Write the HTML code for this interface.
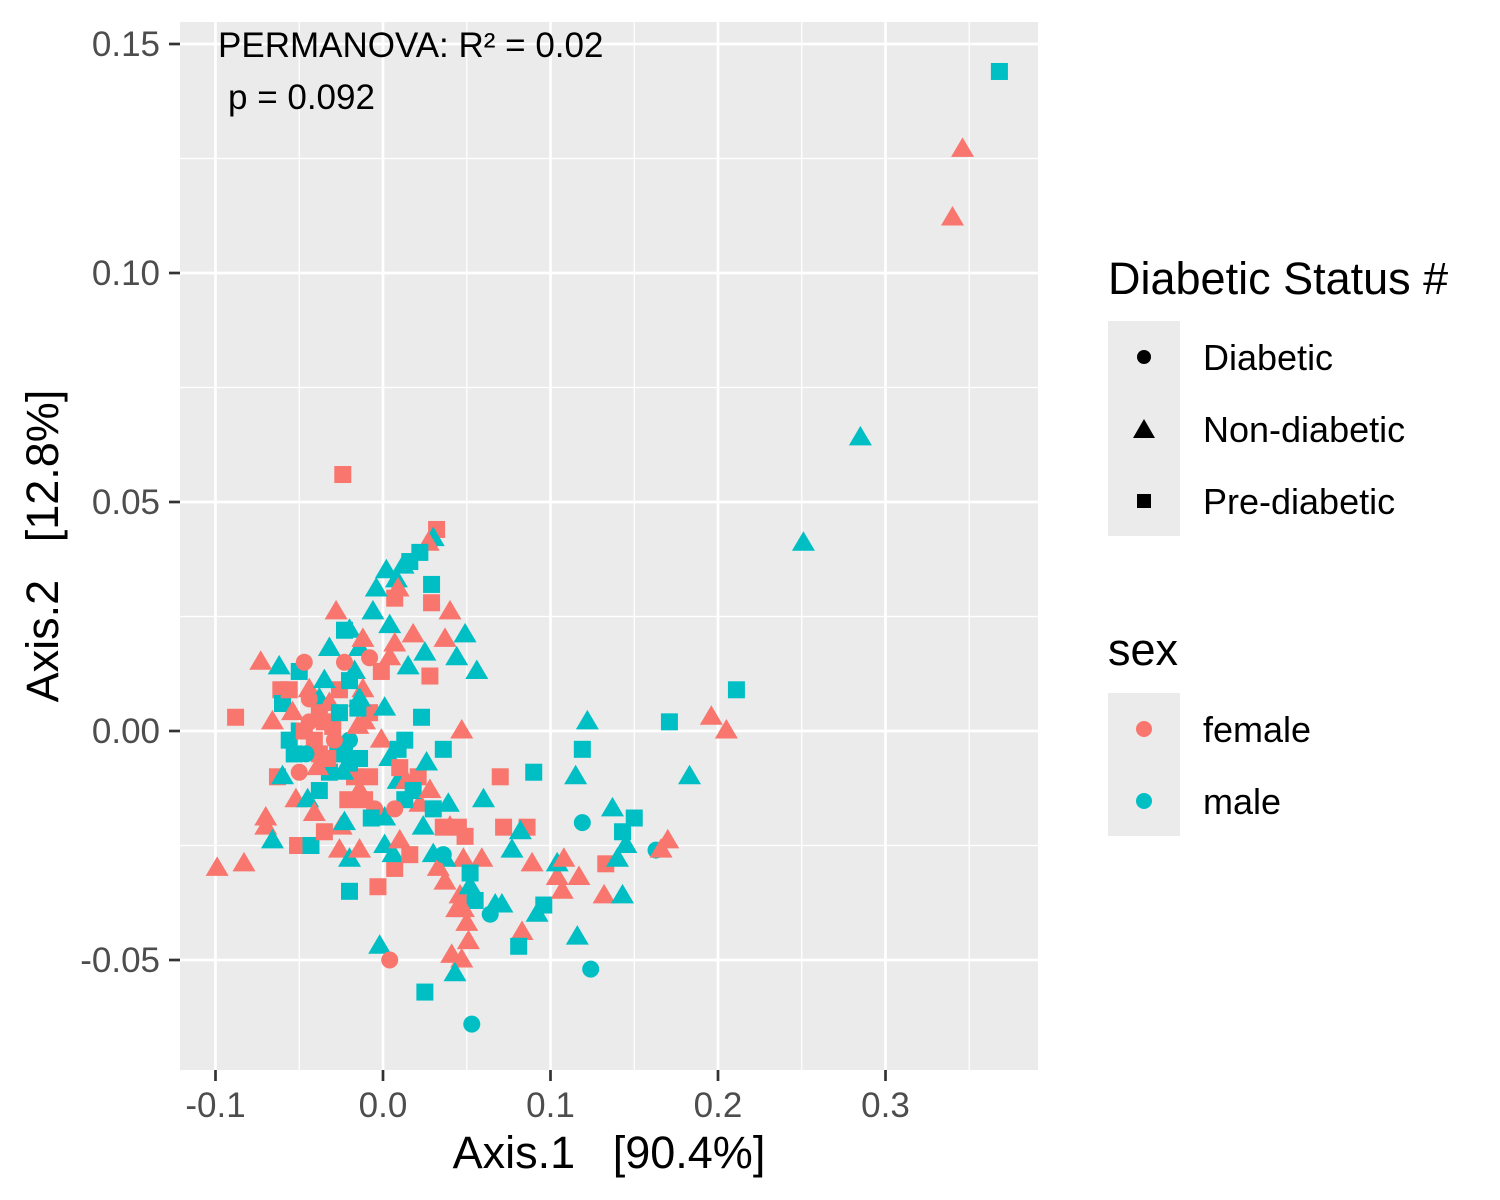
<!DOCTYPE html>
<html><head><meta charset="utf-8"><style>
html,body{margin:0;padding:0;background:#fff;}
svg{display:block;font-family:"Liberation Sans",Arial,sans-serif;}
text{white-space:pre;}
</style></head><body>
<svg id="chart" width="1500" height="1200" viewBox="0 0 1500 1200">
<rect x="180" y="22" width="858" height="1048" fill="#EBEBEB"/>
<g id="grid"></g>
<g id="points"></g>
<g id="axes"></g>
<text x="218" y="57" font-size="35" fill="#000">PERMANOVA: R² = 0.02</text>
<text x="228" y="109" font-size="35" fill="#000">p = 0.092</text>
<text x="609" y="1168" font-size="45" text-anchor="middle" fill="#000" xml:space="preserve">Axis.1   [90.4%]</text>
<text transform="translate(58,546) rotate(-90)" font-size="45" text-anchor="middle" fill="#000" xml:space="preserve">Axis.2   [12.8%]</text>
<g>
<text x="1108" y="294" font-size="45">Diabetic Status #</text>
<rect x="1108" y="321" width="72" height="215" fill="#EBEBEB"/>
<circle cx="1144" cy="357" r="7" fill="#000"/>
<text x="1203" y="370" font-size="36">Diabetic</text>
<polygon points="1144,419 1155,438 1133,438" fill="#000"/>
<text x="1203" y="442" font-size="36">Non-diabetic</text>
<rect x="1137" y="494" width="14" height="14" fill="#000"/>
<text x="1203" y="514" font-size="36">Pre-diabetic</text>
</g>
<g>
<text x="1108" y="665" font-size="45">sex</text>
<rect x="1108" y="693" width="72" height="143" fill="#EBEBEB"/>
<circle cx="1144" cy="729" r="8" fill="#F8766D"/>
<text x="1203" y="742" font-size="36">female</text>
<circle cx="1144" cy="801" r="8" fill="#00BFC4"/>
<text x="1203" y="814" font-size="36">male</text>
</g>
</svg>
<script>
const xTicks=[-0.1,0.0,0.1,0.2,0.3];
const xTickLabels=["-0.1","0.0","0.1","0.2","0.3"];
const yTicks=[0.15,0.10,0.05,0.00,-0.05];
const yTickLabels=["0.15","0.10","0.05","0.00","-0.05"];
const xVals=[0.368,0.346,0.340,0.285,0.251,-0.024,0.211,0.196,0.205,0.171,0.122,0.119,0.183,0.115,0.090,0.070,0.060,0.039,0.072,0.086,0.082,0.119,0.137,0.150,0.143,0.145,0.163,0.166,0.170,0.133,0.140,0.117,0.104,0.089,0.077,0.059,0.048,0.037,0.030,0.045,0.040,0.036,0.024,0.022,0.021,0.036,0.026,0.047,0.023,0.013,0.056,0.049,0.044,0.040,0.037,0.028,0.025,0.029,0.029,0.032,0.030,0.027,0.022,0.016,0.012,0.008,0.002,0.009,0.007,-0.004,-0.006,-0.028,-0.020,-0.023,-0.014,-0.032,-0.012,0.004,0.007,0.018,0.004,0.015,-0.001,-0.008,-0.017,-0.050,-0.062,-0.073,-0.061,-0.060,-0.088,-0.066,-0.054,-0.044,-0.038,-0.050,-0.056,-0.053,-0.063,-0.060,-0.070,-0.070,-0.066,-0.083,-0.099,-0.051,-0.043,-0.052,-0.045,-0.038,-0.041,-0.035,-0.025,-0.023,-0.026,-0.020,-0.020,-0.014,-0.003,-0.002,0.004,0.007,0.006,0.001,0.010,0.016,0.001,-0.005,-0.007,0.013,0.009,0.004,-0.008,-0.014,-0.017,-0.021,-0.011,-0.024,-0.032,-0.039,-0.038,-0.027,-0.023,-0.020,-0.015,-0.011,-0.008,-0.015,0.001,-0.001,-0.012,-0.026,-0.035,-0.044,-0.047,-0.041,-0.035,-0.030,-0.038,-0.044,-0.032,-0.029,-0.020,-0.023,-0.047,-0.056,-0.014,-0.026,-0.046,-0.033,-0.050,-0.020,-0.014,0.009,0.010,0.014,0.018,0.028,0.030,0.049,0.033,0.037,0.046,0.052,0.055,0.048,0.044,0.050,0.051,0.041,0.047,0.043,0.064,0.067,0.071,0.083,0.081,0.092,0.096,0.104,0.108,0.107,0.116,0.124,0.132,0.143,0.053,0.025,0.052,0.036,0.007];
const yVals=[0.144,0.127,0.112,0.064,0.041,0.056,0.009,0.003,0.000,0.002,0.002,-0.004,-0.010,-0.010,-0.009,-0.010,-0.015,-0.016,-0.021,-0.021,-0.022,-0.020,-0.017,-0.019,-0.022,-0.025,-0.026,-0.026,-0.024,-0.029,-0.028,-0.032,-0.032,-0.029,-0.026,-0.028,-0.028,-0.028,-0.027,-0.021,-0.021,-0.021,-0.021,-0.016,-0.010,-0.004,-0.007,0.000,0.003,-0.002,0.013,0.021,0.016,0.026,0.020,0.012,0.017,0.028,0.032,0.044,0.042,0.041,0.039,0.037,0.036,0.033,0.035,0.031,0.029,0.031,0.026,0.026,0.022,0.022,0.018,0.018,0.020,0.023,0.019,0.021,0.016,0.014,0.013,0.016,0.013,0.013,0.014,0.015,0.009,0.006,0.003,0.002,0.004,0.009,0.007,0.000,-0.002,-0.005,-0.010,-0.010,-0.019,-0.021,-0.024,-0.029,-0.030,-0.025,-0.025,-0.015,-0.015,-0.013,-0.018,-0.022,-0.021,-0.020,-0.026,-0.028,-0.035,-0.026,-0.034,-0.047,-0.050,-0.030,-0.027,-0.025,-0.024,-0.027,-0.019,-0.017,-0.019,-0.015,-0.011,-0.006,-0.010,-0.013,-0.010,-0.015,-0.015,-0.009,-0.009,-0.008,-0.005,-0.003,-0.005,-0.002,0.001,0.002,0.004,0.005,0.005,-0.002,0.009,0.009,0.011,0.002,0.000,-0.002,0.002,0.001,0.004,0.007,0.006,-0.002,0.011,0.015,0.015,0.009,0.007,0.004,-0.005,-0.006,-0.009,-0.007,-0.006,-0.004,-0.008,-0.011,-0.013,-0.013,-0.017,-0.023,-0.030,-0.033,-0.036,-0.034,-0.037,-0.039,-0.039,-0.042,-0.046,-0.049,-0.050,-0.053,-0.040,-0.038,-0.038,-0.044,-0.047,-0.040,-0.038,-0.029,-0.028,-0.035,-0.045,-0.052,-0.036,-0.036,-0.064,-0.057,-0.031,-0.027,-0.017];
const shapes=["S","T","T","T","T","S","S","T","T","S","T","S","T","T","S","S","T","T","S","S","T","C","T","S","S","T","C","T","T","S","T","T","T","T","T","T","T","T","T","S","T","S","T","T","S","S","T","T","S","S","T","T","T","T","T","S","T","S","S","S","T","T","S","S","T","T","T","T","S","T","T","T","T","S","T","T","T","T","T","T","T","T","S","C","T","S","T","T","S","S","S","T","T","T","T","S","S","S","S","T","T","T","T","T","T","S","S","T","T","S","T","S","T","T","T","T","S","T","S","T","C","S","T","T","T","S","T","C","S","S","T","T","S","T","S","S","S","T","S","T","S","S","S","C","T","T","S","S","T","T","T","S","T","C","S","S","S","S","S","C","T","C","S","C","C","S","T","S","C","S","C","S","S","S","S","T","S","T","S","S","T","T","T","T","S","T","T","T","T","T","T","T","C","T","T","T","S","T","S","T","T","T","T","C","T","T","C","S","S","C","C"];
const sexes=["m","f","f","m","m","f","m","f","f","m","m","m","m","m","m","f","m","m","f","f","m","m","m","m","m","m","m","f","f","f","m","f","f","f","m","f","f","m","m","f","f","f","m","f","f","m","m","f","m","m","m","m","m","f","f","f","m","f","m","f","m","f","m","m","m","m","m","f","f","m","m","f","m","m","m","m","f","m","f","f","f","m","f","f","m","m","m","f","f","m","f","f","f","f","m","m","m","m","f","m","f","f","m","f","f","f","m","f","m","m","f","f","f","m","f","m","m","f","f","m","f","f","m","m","f","f","m","f","m","m","m","m","f","f","f","f","f","m","m","f","f","m","m","m","f","f","f","m","m","f","f","f","m","f","f","f","f","f","f","f","f","f","m","f","f","f","m","m","m","f","f","m","m","m","f","f","m","f","m","f","f","f","f","m","m","f","f","f","f","f","f","m","m","m","m","f","m","m","m","m","f","f","m","m","f","m","m","m","m","m","f"];
const xs=v=>383+v*1675, ys=v=>731-v*4580;
const NS="http://www.w3.org/2000/svg";
const grid=document.getElementById('grid');
function ln(g,x1,y1,x2,y2,w,c){const l=document.createElementNS(NS,'line');l.setAttribute('x1',x1);l.setAttribute('y1',y1);l.setAttribute('x2',x2);l.setAttribute('y2',y2);l.setAttribute('stroke',c);l.setAttribute('stroke-width',w);g.appendChild(l);return l;}
for(let i=0;i<xTicks.length;i++){const m=xTicks[i]+0.05;
 const a=ln(grid,xs(m),22,xs(m),1070,1.3,'#fff');
 
 }
for(let i=0;i<yTicks.length;i++){const m=yTicks[i]+0.025;
 const a=ln(grid,180,ys(m),1038,ys(m),1.3,'#fff');
 
 }
const ax=document.getElementById('axes');
xTicks.forEach((t,i)=>{const g=ln(grid,xs(t),22,xs(t),1070,2.7,'#fff');
 
 
 const k=ln(ax,xs(t),1070,xs(t),1081,2.7,'#333');
 
 
 const tx=document.createElementNS(NS,'text');tx.setAttribute('x',xs(t));tx.setAttribute('y',1117);tx.setAttribute('text-anchor','middle');tx.setAttribute('font-size','35');tx.setAttribute('fill','#4D4D4D');tx.textContent=xTickLabels[i];
 
 
 ax.appendChild(tx);});
yTicks.forEach((t,i)=>{const g=ln(grid,180,ys(t),1038,ys(t),2.7,'#fff');
 
 
 const k=ln(ax,169,ys(t),180,ys(t),2.7,'#333');
 
 
 const tx=document.createElementNS(NS,'text');tx.setAttribute('x',160);tx.setAttribute('y',ys(t)+12);tx.setAttribute('text-anchor','end');tx.setAttribute('font-size','35');tx.setAttribute('fill','#4D4D4D');tx.textContent=yTickLabels[i];
 
 
 ax.appendChild(tx);});
const pg=document.getElementById('points');
for(let i=0;i<xVals.length;i++){
 const cx=xs(xVals[i]),cy=ys(yVals[i]);const s=shapes[i]||'T';const col=(sexes[i]||'f')==='m'?'#00BFC4':'#F8766D';
 let el;
 if(s==='C'){el=document.createElementNS(NS,'circle');el.setAttribute('cx',cx);el.setAttribute('cy',cy);el.setAttribute('r',8.5);}
 else if(s==='S'){el=document.createElementNS(NS,'rect');el.setAttribute('x',cx-8.5);el.setAttribute('y',cy-8.5);el.setAttribute('width',17);el.setAttribute('height',17);}
 else{el=document.createElementNS(NS,'polygon');el.setAttribute('points',`${cx},${cy-12} ${cx+11.5},${cy+7.5} ${cx-11.5},${cy+7.5}`);}
 el.setAttribute('fill',col);
 
 
 pg.appendChild(el);}
</script>
</body></html>
